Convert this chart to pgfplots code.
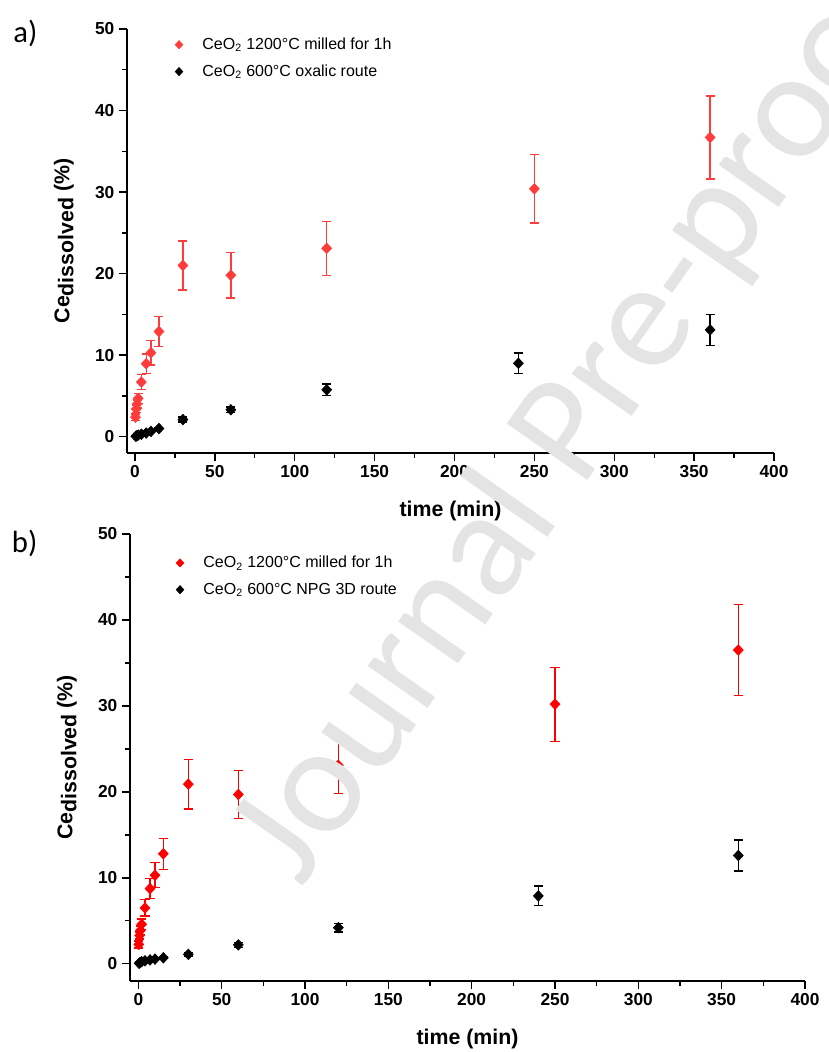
\documentclass[border=0pt]{standalone}
\usepackage{pgfplots}
\pgfplotsset{compat=1.18}
\usepackage{fontspec}
\setmainfont{Liberation Sans}
\newfontfamily\carlito{Carlito}
\definecolor{redA}{RGB}{255,60,60}
\definecolor{redB}{RGB}{255,0,0}
\definecolor{wm}{RGB}{228,228,228}
\pgfplotsset{
  panel/.style={
    scale only axis,
    xmin=-5, xmax=400, ymin=-2, ymax=50,
    axis lines=left,
    axis line style={-, line width=1pt},
    xtick={0,50,...,400}, ytick={0,10,...,50},
    minor xtick={25,75,...,375}, minor ytick={5,15,...,45},
    tick align=outside,
    major tick length=6pt, minor tick length=3.75pt,
    every tick/.style={line width=1pt, black},
    /pgf/number format/assume math mode=true,
    ticklabel style={font=\fontsize{13}{13}\selectfont\bfseries},
    label style={font=\fontsize{16}{16}\selectfont\bfseries},
    xlabel={time (min)},
    ylabel={Ce\raisebox{-0.35ex}{dissolved} (\%)},
    xlabel style={yshift=-10.5pt},
    ylabel style={yshift=9pt},
    clip=false,
    legend cell align=left,
    legend image code/.code={\draw[##1, mark size=3.1pt] plot coordinates {(0pt,0pt)}; \path[draw=none,fill=none] (0pt,0pt) -- (15.5pt,0pt);},
  },
  ser/.style={only marks, mark=diamond*, mark size=4pt,
    mark options={xscale=1.25, fill=#1, draw=#1, solid},
    color=#1,
    error bars/.cd, y dir=both, y explicit,
    error bar style={line width=1pt, color=#1},
    error mark options={rotate=90, mark size=3.4pt, line width=1pt, color=#1}},
}
\begin{document}
\begin{tikzpicture}
\useasboundingbox (0,0) rectangle (621pt,789pt);
% panel a
\begin{axis}[panel, width=485.25pt, height=318pt, at={(95.25pt,449.25pt)}, anchor=south west,
  legend style={at={(0.074,0.986)}, anchor=north west, draw=none, fill=none,
    font=\fontsize{12}{14}\selectfont, row sep=6pt, inner sep=0pt}]
\addplot+[ser=redA] coordinates {
 (0.3,2.4) +- (0,0.4)
 (0.8,3.4) +- (0,0.4)
 (1.3,4.0) +- (0,0.5)
 (2,4.7) +- (0,0.6)
 (4,6.7) +- (0,0.9)
 (7,8.95) +- (0,1.2)
 (10,10.3) +- (0,1.5)
 (15,12.9) +- (0,1.8)
 (30,21.0) +- (0,3.0)
 (60,19.8) +- (0,2.8)
 (120,23.1) +- (0,3.3)
 (250,30.4) +- (0,4.2)
 (360,36.7) +- (0,5.1)
};
\addlegendentry{CeO\textsubscript{2} 1200°C milled for 1h}
\addplot+[ser=black] coordinates {
 (0.5,0.05) +- (0,0.05)
 (1,0.1) +- (0,0.05)
 (2,0.2) +- (0,0.05)
 (4,0.3) +- (0,0.05)
 (7,0.45) +- (0,0.05)
 (10,0.65) +- (0,0.08)
 (15,1.0) +- (0,0.1)
 (30,2.1) +- (0,0.3)
 (60,3.3) +- (0,0.35)
 (120,5.75) +- (0,0.7)
 (240,9.0) +- (0,1.25)
 (360,13.1) +- (0,1.9)
};
\addlegendentry{CeO\textsubscript{2} 600°C oxalic route}
\end{axis}
% panel b
\begin{axis}[panel, width=506.25pt, height=335.25pt, at={(97.5pt,53.25pt)}, anchor=south west,
  legend style={at={(0.068,0.957)}, anchor=north west, draw=none, fill=none,
    font=\fontsize{12}{14}\selectfont, row sep=6pt, inner sep=0pt}]
\addplot+[ser=redB] coordinates {
 (0.3,2.25) +- (0,0.4)
 (0.8,3.3) +- (0,0.4)
 (1.3,3.9) +- (0,0.5)
 (2,4.6) +- (0,0.6)
 (4,6.5) +- (0,0.95)
 (7,8.75) +- (0,1.15)
 (10,10.3) +- (0,1.45)
 (15,12.8) +- (0,1.8)
 (30,20.9) +- (0,2.9)
 (60,19.7) +- (0,2.8)
 (120,23.1) +- (0,3.3)
 (250,30.2) +- (0,4.3)
 (360,36.5) +- (0,5.3)
};
\addlegendentry{CeO\textsubscript{2} 1200°C milled for 1h}
\addplot+[ser=black] coordinates {
 (0.5,0.05) +- (0,0.05)
 (1,0.15) +- (0,0.05)
 (2,0.25) +- (0,0.05)
 (4,0.35) +- (0,0.05)
 (7,0.45) +- (0,0.05)
 (10,0.55) +- (0,0.06)
 (15,0.7) +- (0,0.08)
 (30,1.1) +- (0,0.2)
 (60,2.2) +- (0,0.3)
 (120,4.2) +- (0,0.5)
 (240,7.9) +- (0,1.15)
 (360,12.6) +- (0,1.8)
};
\addlegendentry{CeO\textsubscript{2} 600°C NPG 3D route}
\end{axis}
\node[font=\carlito\fontsize{23}{23}\selectfont] at (19pt,764.25pt) {a)};
\node[font=\carlito\fontsize{23}{23}\selectfont] at (18.5pt,381.75pt) {b)};
\node[font=\carlito\fontsize{115}{115}\selectfont, text=wm, rotate=55, anchor=west, inner sep=0pt] at (201pt,140pt) {Journal Pre-proof};
\end{tikzpicture}
\end{document}
